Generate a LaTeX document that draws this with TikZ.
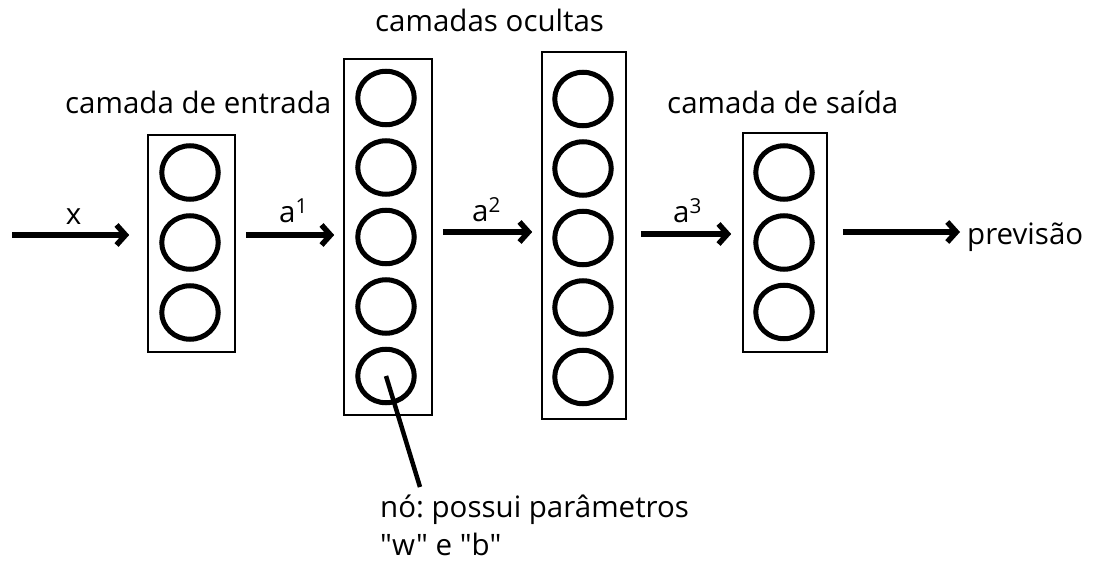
\documentclass[tikz,border=0pt]{standalone}
\usepackage{fontspec}
\setmainfont{Open Sans}
\newfontfamily\plainq{Open Sans}[Ligatures=TeXOff]
\usetikzlibrary{arrows.meta,calc,shapes.geometric}
\frenchspacing
\begin{document}
\begin{tikzpicture}[x=1pt,y=-1pt,
  box/.style={draw, line width=1.6pt, inner sep=0pt},
  neuron/.style={ellipse, draw, line width=5pt, minimum width=56.5pt, minimum height=53.5pt, inner sep=0pt},
  arr/.style={line width=5.5pt, -{Straight Barb[length=9pt,width=20pt]}},
  lbl/.style={font=\fontsize{29.5}{34}\selectfont, inner sep=0pt, anchor=base west},
]
\useasboundingbox[fill=white] (0,0) rectangle (1094,561);

% layer boxes
\node[box, minimum width=87pt, minimum height=217pt] (b1) at (191.5,243.5) {};
\node[box, minimum width=88pt, minimum height=356pt] (b2) at (388,237) {};
\node[box, minimum width=84pt, minimum height=367pt] (b3) at (584,235.5) {};
\node[box, minimum width=84pt, minimum height=219pt] (b4) at (785,242.5) {};

% neurons
\foreach \i/\y in {1/172.5,2/242.5,3/312.5} \node[neuron] (n1\i) at (190,\y) {};
\foreach \i/\y in {1/98,2/167.5,3/237,4/306.5,5/376} \node[neuron] (n2\i) at (386,\y) {};
\foreach \i/\y in {1/99,2/168.5,3/238,4/307.5,5/377} \node[neuron] (n3\i) at (583,\y) {};
\foreach \i/\y in {1/172.5,2/242.5,3/312} \node[neuron] (n4\i) at (784,\y) {};

% labels
\node[lbl, anchor=base] (lx) at (73.5,225) {x};
\node[lbl] (la1) at (279,223) {a\textsuperscript{1}};
\node[lbl] (la2) at (472,222) {a\textsuperscript{2}};
\node[lbl] (la3) at (673,223) {a\textsuperscript{3}};
\node[lbl] (prev) at (967,245) {previsão};
\node[lbl] (tin) at (65,114) {camada de entrada};
\node[lbl] (thid) at (375,32) {camadas ocultas};
\node[lbl] (tout) at (667,114) {camada de saída};
\node[lbl] (note1) at (380,517) {nó: possui parâmetros};
\node[lbl] (note2) at (380,555) {\plainq "w" e "b"};

% arrows
\coordinate (xin) at (12,235);
\draw[arr] (xin) -- ($(b1.west)+(-18,-8.5)$);
\draw[arr] ($(b1.east)+(10,-8.5)$) -- ($(b2.west)+(-9,-2)$);
\draw[arr] ($(b2.east)+(10,-5)$) -- ($(b3.west)+(-9,-3.5)$);
\draw[arr] ($(b3.east)+(14,-1.5)$) -- ($(b4.west)+(-11,-8.5)$);
\draw[arr] ($(b4.east)+(15,-10.5)$) -- ($(prev.west|-b4.east)+(-7,-10.5)$);

% pointer to node
\coordinate (tip) at (420,487);
\draw[line width=4.5pt] (n25.center) -- (tip);
\end{tikzpicture}
\end{document}
